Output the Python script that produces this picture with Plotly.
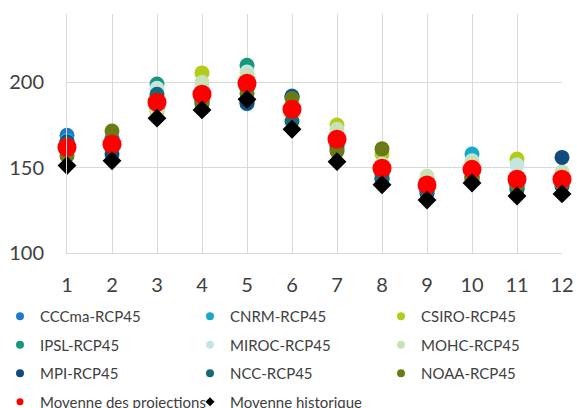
import plotly.graph_objects as go

# Months on the x axis
months = [1, 2, 3, 4, 5, 6, 7, 8, 9, 10, 11, 12]

# Monthly values for each climate projection (RCP4.5)
cccma = [169, 167, 185, 192, 187.5, 192, 165, 146, 137, 147, 138, 140]
cnrm = [166, 165, 185, 190, 201, 183, 167, 147, 139, 158, 142, 142]
csiro = [160, 162, 183, 205.5, 203, 180, 175, 158, 143.5, 150, 155, 141]
ipsl = [163, 164, 199, 195, 210, 185, 168, 150, 141, 151, 144, 143]
miroc = [161, 160, 196.5, 197, 206, 182, 170, 152, 142, 154, 151.5, 140]
mohc = [159, 161, 184, 200, 204, 181, 172.5, 151, 145, 153, 145, 147.5]
mpi = [165, 158, 188, 188, 188, 191.5, 163, 143, 135, 144, 139, 156]
ncc = [164, 163, 193, 189, 196, 177, 161, 144, 136, 145, 137, 139]
noaa = [157, 171.5, 187, 187, 193.5, 190.5, 159.5, 161, 140, 143, 140, 141]

# Ensemble mean of the projections and historical mean
proj_mean = [162, 163.7, 188.3, 193, 199.4, 184.2, 166.6, 149.6, 139.9, 149, 143.2, 143.2]
hist_mean = [151.2, 154, 179, 183.8, 190, 172.5, 153.5, 140, 131, 141, 133.4, 134.6]

y_ticks = [100, 150, 200]

models = [
    ("CCCma-RCP45", cccma, "#1f78c8", "legend"),
    ("CNRM-RCP45", cnrm, "#18a9c8", "legend2"),
    ("CSIRO-RCP45", csiro, "#b3cc1a", "legend3"),
    ("IPSL-RCP45", ipsl, "#16987a", "legend"),
    ("MIROC-RCP45", miroc, "#c4e5e4", "legend2"),
    ("MOHC-RCP45", mohc, "#c6e2b6", "legend3"),
    ("MPI-RCP45", mpi, "#114b7d", "legend"),
    ("NCC-RCP45", ncc, "#156a76", "legend2"),
    ("NOAA-RCP45", noaa, "#6a7a16", "legend3"),
]

FONT = "Lato"
TXT = "#404040"

fig = go.Figure()

for name, vals, color, _ in models:
    fig.add_trace(go.Scatter(
        x=months, y=vals, mode="markers", name=name, showlegend=False,
        marker=dict(size=15, color=color, line=dict(width=0)),
        cliponaxis=False,
    ))

fig.add_trace(go.Scatter(
    x=months, y=proj_mean, mode="markers", name="Movenne des projections",
    showlegend=False, marker=dict(size=19, color="#ff0000", line=dict(width=0)),
    cliponaxis=False,
))
fig.add_trace(go.Scatter(
    x=months, y=hist_mean, mode="markers", name="Movenne historique",
    showlegend=False,
    marker=dict(size=14.5, color="#000000", symbol="diamond", line=dict(width=0)),
    cliponaxis=False,
))

# Legend entries (small swatches), split over three column legends
for name, _, color, lg in models:
    fig.add_trace(go.Scatter(
        x=[None], y=[None], mode="markers", name=name, legend=lg,
        legendgroup=name, marker=dict(size=8, color=color),
    ))
fig.add_trace(go.Scatter(
    x=[None], y=[None], mode="markers", name="Movenne des projections",
    legend="legend", legendgroup="pm", marker=dict(size=7, color="#ff0000"),
))
fig.add_trace(go.Scatter(
    x=[None], y=[None], mode="markers", name="Movenne historique",
    legend="legend2", legendgroup="hm",
    marker=dict(size=7, color="#000000", symbol="diamond"),
))

leg_common = dict(
    orientation="v", xref="container", yref="container", xanchor="left",
    yanchor="top", y=1 - 300 / 408, bgcolor="rgba(0,0,0,0)", borderwidth=0,
    font=dict(family=FONT, size=15, color=TXT), tracegroupgap=6,
    itemclick=False, itemdoubleclick=False,
)

fig.update_layout(
    width=577, height=408,
    margin=dict(l=67, r=15, t=14, b=155, autoexpand=False),
    paper_bgcolor="white", plot_bgcolor="white",
    font=dict(family=FONT, color=TXT),
    legend=dict(leg_common, x=0),
    legend2=dict(leg_common, x=190 / 577),
    legend3=dict(leg_common, x=381 / 577),
    xaxis=dict(
        range=[1, 12], tickmode="array", tickvals=months,
        showgrid=True, gridcolor="#d9d9d9", gridwidth=1,
        showline=True, linecolor="#d9d9d9", linewidth=1,
        zeroline=False, ticks="", ticklabelstandoff=14,
        tickfont=dict(family=FONT, size=20, color=TXT),
    ),
    yaxis=dict(
        range=[100, 240], tickmode="array", tickvals=y_ticks,
        showgrid=True, gridcolor="#d9d9d9", gridwidth=1,
        showline=True, linecolor="#d9d9d9", linewidth=1,
        zeroline=False, ticks="", ticklabelstandoff=18,
        tickfont=dict(family=FONT, size=20, color=TXT),
    ),
)

fig.write_html("out.html")
